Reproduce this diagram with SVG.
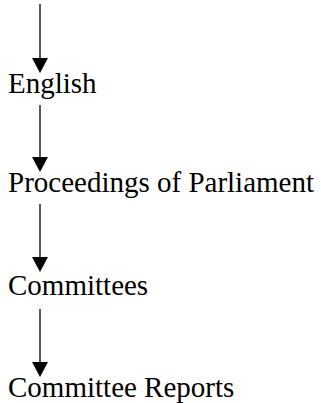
<svg xmlns="http://www.w3.org/2000/svg" width="321" height="403" viewBox="0 0 321 403">
<style>
.lbl{font-family:'Liberation Serif',serif;font-size:29px;fill:#000}
.ln{stroke:#000;stroke-width:1.3;fill:none}
.hd{fill:#000;stroke:none}
</style>
<rect width="321" height="403" fill="#fff"/>
<g id="english"><text class="lbl" x="8" y="93">English</text></g>
<g id="proceedings"><text class="lbl" x="8" y="192">Proceedings of Parliament</text></g>
<g id="committees"><text class="lbl" x="8" y="295">Committees</text></g>
<g id="committee-reports"><text class="lbl" x="8" y="397">Committee Reports</text></g>
<g id="connectors">
<line class="ln" x1="40" y1="4" x2="40" y2="62"/>
<polygon class="hd" points="32,58 48,58 40,73"/>
<line class="ln" x1="40" y1="105" x2="40" y2="161"/>
<polygon class="hd" points="32,157 48,157 40,172"/>
<line class="ln" x1="40" y1="204" x2="40" y2="261"/>
<polygon class="hd" points="32,257 48,257 40,272"/>
<line class="ln" x1="40" y1="309" x2="40" y2="366"/>
<polygon class="hd" points="32,362 48,362 40,377"/>
</g>
</svg>
